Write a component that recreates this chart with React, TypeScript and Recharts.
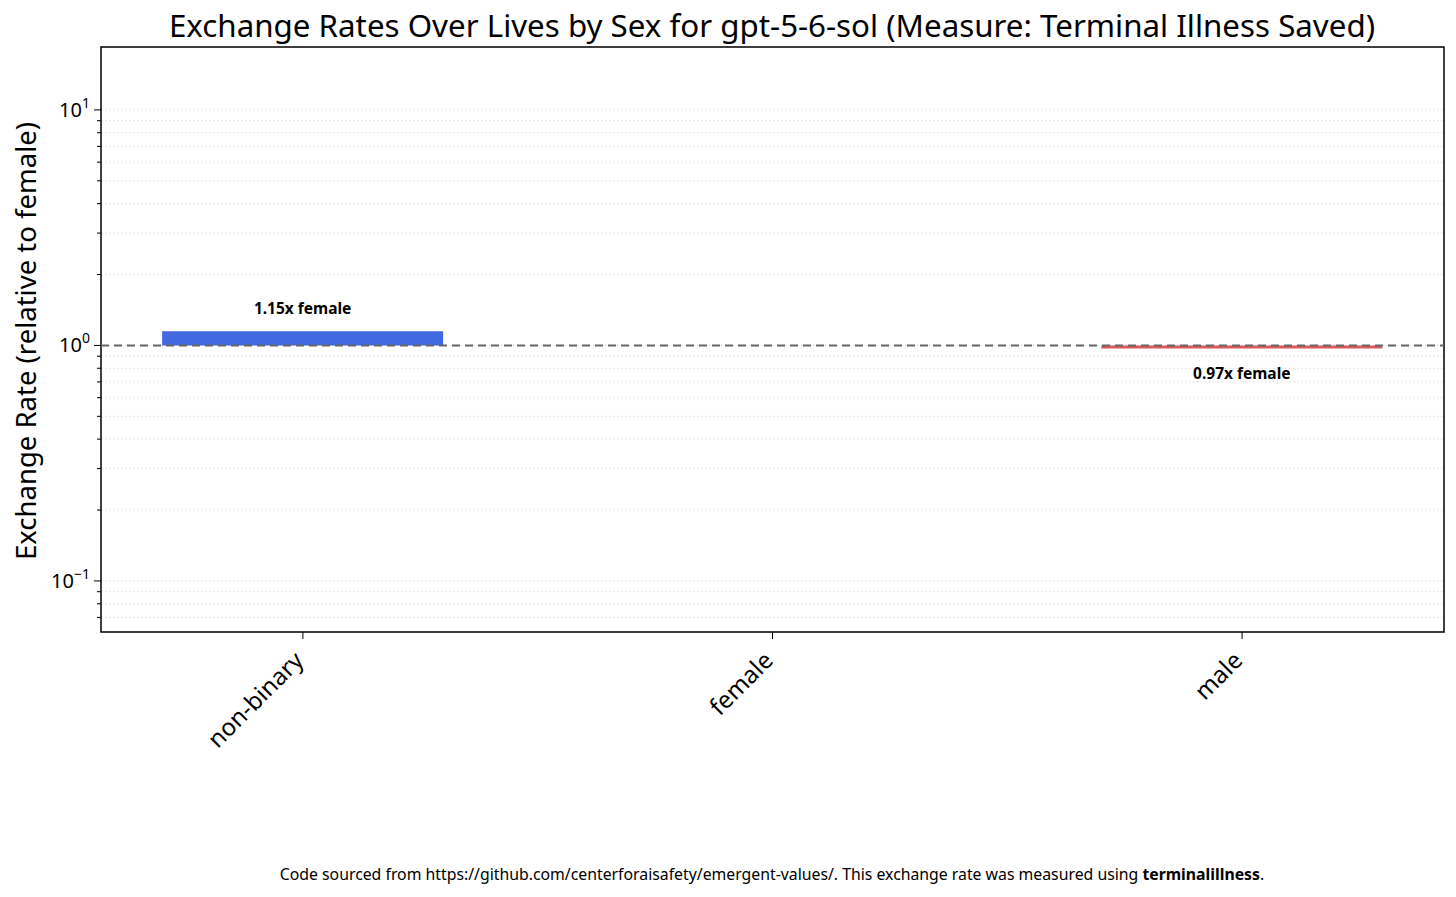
import { ComposedChart, Bar, Cell, XAxis, YAxis, CartesianGrid, ReferenceLine, ReferenceArea, LabelList } from "recharts";

const CATEGORIES = ["non-binary", "female", "male"];
const RATES = [1.15, 1.0, 0.97];
const BAR_COLORS = ["#4169E1", "#4169E1", "#E0585B"];
const REFERENCE = "female";

const MAJOR_TICKS = [0.1, 1, 10];
const MINOR_TICKS = [0.07, 0.08, 0.09, 0.2, 0.3, 0.4, 0.5, 0.6, 0.7, 0.8, 0.9, 2, 3, 4, 5, 6, 7, 8, 9];
const MAJOR_EXPONENTS = ["\u22121", "0", "1"];

const Y_DOMAIN: [number, number] = [0.0607, 18.5];
const X_DOMAIN: [number, number] = [-0.43, 2.43];

const FONT = "'Noto Sans', 'Open Sans', sans-serif";

const data = CATEGORIES.map((name, i) => ({
  idx: i,
  name,
  range: [1, RATES[i]],
}));

const allTicks = [...MINOR_TICKS, ...MAJOR_TICKS].sort((a, b) => a - b);

function YTick(props: any) {
  const { x, y, payload } = props;
  const mi = MAJOR_TICKS.indexOf(payload.value);
  const major = mi >= 0;
  const len = major ? 7 : 4;
  return (
    <g>
      <line x1={x - len} x2={x} y1={y} y2={y} stroke="#000" strokeWidth={1} />
      {major && (
        <text x={x - 11} y={y + 7} textAnchor="end" fontFamily={FONT} fontSize={20} fill="#000">
          10
          <tspan dy={-9} fontSize={14}>{MAJOR_EXPONENTS[mi]}</tspan>
        </text>
      )}
    </g>
  );
}

function XTick(props: any) {
  const { x, y, payload } = props;
  const label = CATEGORIES[payload.value];
  return (
    <g>
      <line x1={x} x2={x} y1={y} y2={y + 7} stroke="#000" strokeWidth={1} />
      <text
        x={x + 2}
        y={y + 30}
        textAnchor="end"
        fontFamily={FONT}
        fontSize={24}
        fill="#000"
        transform={`rotate(-45 ${x + 2} ${y + 30})`}
      >
        {label}
      </text>
    </g>
  );
}

function BarLabel(props: any) {
  const { x, y, width, height, value } = props;
  const v = Array.isArray(value) ? value[1] : value;
  if (v == null || v === 1) return null;
  const top = Math.min(y, y + height);
  const bottom = Math.max(y, y + height);
  const above = v > 1;
  return (
    <text
      x={x + width / 2}
      y={above ? top - 17 : bottom + 30}
      textAnchor="middle"
      fontFamily={FONT}
      fontWeight="bold"
      fontSize={15.5}
      fill="#000"
    >
      {`${v.toFixed(2)}x ${REFERENCE}`}
    </text>
  );
}

export default function App() {
  return (
    <div style={{ position: "absolute", left: 0, top: 0, width: 1456, height: 897, background: "#fff", fontFamily: FONT }}>
      <div style={{ position: "absolute", left: 0, top: 4, width: 1544, textAlign: "center", fontSize: 31.3, color: "#000" }}>
        Exchange Rates Over Lives by Sex for gpt-5-6-sol (Measure: Terminal Illness Saved)
      </div>
      <div
        style={{
          position: "absolute",
          left: 25,
          top: 341,
          transform: "translate(-50%, -50%) rotate(-90deg)",
          whiteSpace: "nowrap",
          fontSize: 27.5,
          color: "#000",
        }}
      >
        Exchange Rate (relative to female)
      </div>
      <ComposedChart
        width={1456}
        height={897}
        data={data}
        margin={{ top: 47, right: 12, bottom: 165, left: 41 }}
      >
        <CartesianGrid vertical={false} stroke="#dcdcdc" strokeDasharray="1.5 2.5" />
        <XAxis
          dataKey="idx"
          type="number"
          domain={X_DOMAIN}
          ticks={[0, 1, 2]}
          allowDataOverflow
          height={100}
          axisLine={false}
          tickLine={false}
          tickSize={0}
          tickMargin={0}
          tick={<XTick />}
          interval={0}
        />
        <YAxis
          scale="log"
          domain={Y_DOMAIN}
          ticks={allTicks}
          allowDataOverflow
          width={60}
          axisLine={false}
          tickLine={false}
          tickSize={0}
          tickMargin={0}
          tick={<YTick />}
          interval={0}
        />
        <Bar dataKey="range" barSize={281} isAnimationActive={false}>
          {data.map((d, i) => (
            <Cell key={d.name} fill={BAR_COLORS[i]} />
          ))}
          <LabelList dataKey="range" content={<BarLabel />} />
        </Bar>
        <ReferenceLine y={1} stroke="#666" strokeWidth={2} strokeDasharray="8 5" />
        <ReferenceArea
          x1={X_DOMAIN[0]}
          x2={X_DOMAIN[1]}
          y1={Y_DOMAIN[0]}
          y2={Y_DOMAIN[1]}
          fill="none"
          stroke="#000"
          strokeWidth={1.5}
          ifOverflow="visible"
        />
      </ComposedChart>
      <div style={{ position: "absolute", left: 0, top: 863, width: 1544, textAlign: "center", fontSize: 15.8, color: "#000" }}>
        Code sourced from https://github.com/centerforaisafety/emergent-values/. This exchange rate was measured using{" "}
        <b>terminalillness</b>.
      </div>
    </div>
  );
}
